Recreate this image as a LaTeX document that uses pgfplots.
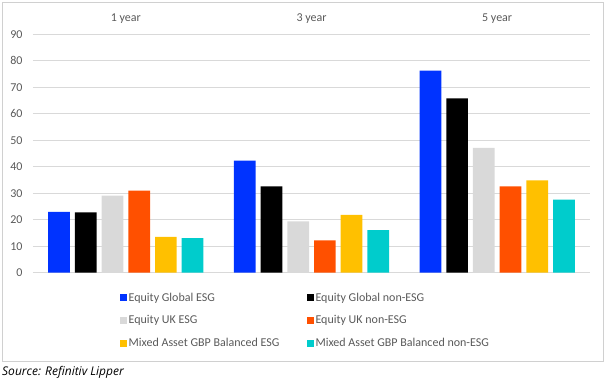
\documentclass[border=0pt]{standalone}
\usepackage{pgfplots}
\pgfplotsset{compat=1.18}
\usepackage{fontspec}
\setmainfont{Carlito}
\newfontfamily\srcfont{Open Sans}
\definecolor{cblue}{RGB}{0,51,255}
\definecolor{cblack}{RGB}{0,0,0}
\definecolor{cgray}{RGB}{217,217,217}
\definecolor{corange}{RGB}{255,80,0}
\definecolor{cyellow}{RGB}{255,192,0}
\definecolor{ccyan}{RGB}{0,204,204}
\definecolor{txtgray}{RGB}{89,89,89}
\definecolor{gridgray}{RGB}{217,217,217}
\definecolor{framegray}{RGB}{208,208,208}
\begin{document}
\begin{tikzpicture}[x=1pt,y=1pt]
\begin{axis}[
  at={(33pt,-272.7pt)}, anchor=south west,
  scale only axis, width=557pt, height=238.4pt,
  ybar=5pt, bar width=21.7pt,
  xmin=-0.5, xmax=2.5, ymin=0, ymax=90,
  xtick=data, xticklabels={1 year,3 year,5 year},
  xticklabel pos=upper,
  ytick={0,10,...,90},
  axis line style={draw=none},
  major tick length=0pt,
  ymajorgrids, grid style={gridgray, line width=0.9pt},
  /pgf/number format/assume math mode=true,
  tick label style={font=\fontsize{12}{14}\selectfont, text=txtgray},
  yticklabel style={anchor=east, inner sep=0pt, xshift=-10.3pt},
  xticklabel style={anchor=base, inner sep=0pt, yshift=13.3pt},
  legend columns=2,
  legend cell align=left,
  legend image code/.code={\fill[#1] (0pt,-3.5pt) rectangle (7pt,3.5pt);},
  legend style={draw=none, fill=none, inner sep=0pt, at={(0.1562,-0.077)}, anchor=north west,
    font=\fontsize{12}{14}\selectfont, text=txtgray, row sep=10pt,
    /tikz/every even column/.append style={column sep=26pt},
    nodes={inner sep=1.5pt}},
]
\addplot[fill=cblue, draw=none] coordinates {(0,23.0) (1,42.3) (2,76.3)};
\addplot[fill=cblack, draw=none] coordinates {(0,22.8) (1,32.6) (2,65.8)};
\addplot[fill=cgray, draw=none] coordinates {(0,29.1) (1,19.4) (2,47.1)};
\addplot[fill=corange, draw=none] coordinates {(0,31.0) (1,12.2) (2,32.6)};
\addplot[fill=cyellow, draw=none] coordinates {(0,13.5) (1,21.8) (2,34.9)};
\addplot[fill=ccyan, draw=none] coordinates {(0,13.1) (1,16.1) (2,27.6)};
\legend{Equity Global ESG, Equity Global non-ESG, Equity UK ESG, Equity UK non-ESG, Mixed Asset GBP Balanced ESG, Mixed Asset GBP Balanced non-ESG}
\end{axis}
\draw[framegray, line width=0.8pt] (2,-2) rectangle (603,-361);
\node[anchor=base west, inner sep=0pt, font=\srcfont\fontsize{12}{14}\selectfont\itshape] at (2,-375) {Source: Refinitiv Lipper};
\pgfresetboundingbox
\path[use as bounding box] (0,0) rectangle (607,-388);
\end{tikzpicture}
\end{document}
